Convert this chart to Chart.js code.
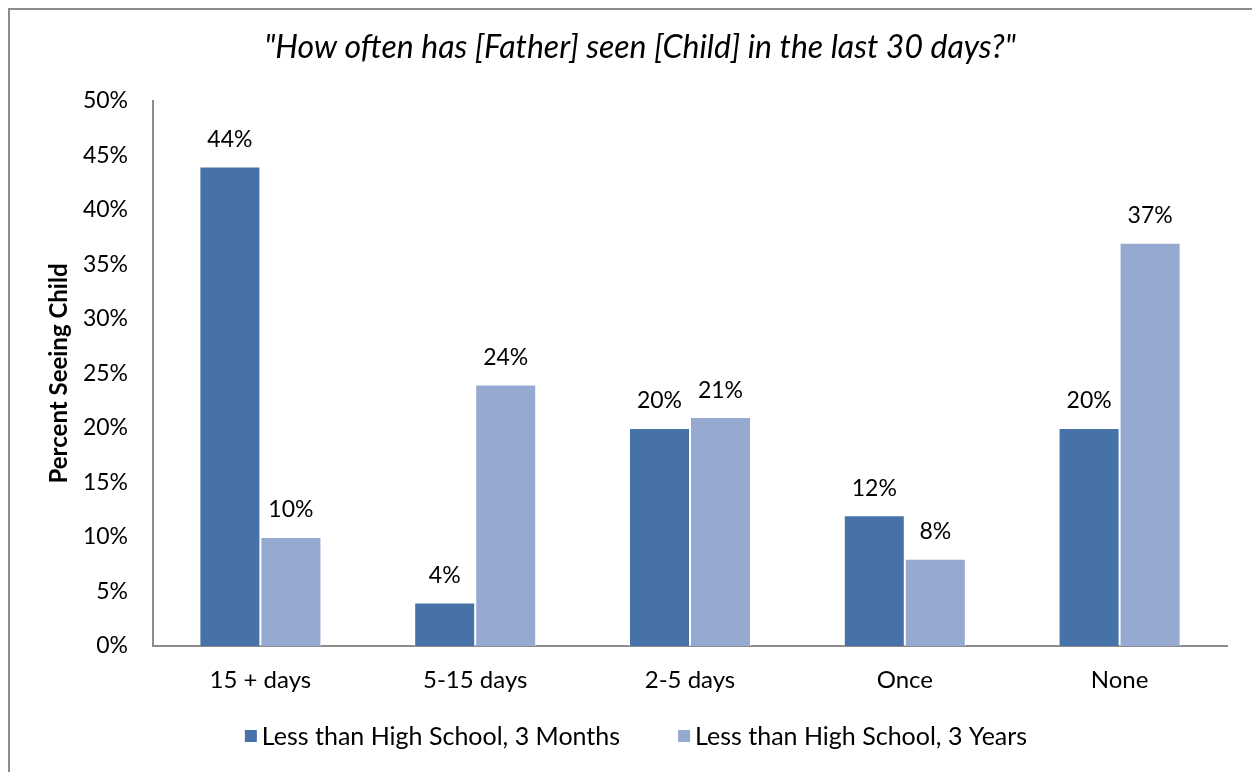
<!DOCTYPE html>
<html>
<head>
<meta charset="utf-8">
<script src="https://cdn.jsdelivr.net/npm/chart.js@4.4.1/dist/chart.umd.min.js"></script>
<style>
  html, body { margin: 0; padding: 0; background: #fff; overflow: hidden; }
  #wrap { position: relative; width: 1252px; height: 772px; }
</style>
</head>
<body>
<div id="wrap"><canvas id="c" width="1252" height="772"></canvas></div>
<script>
// Survey answers: how often the father saw the child in the last 30 days
const categories = ['15 + days', '5-15 days', '2-5 days', 'Once', 'None'];
const seriesNames = ['Less than High School, 3 Months', 'Less than High School, 3 Years'];
const months3 = [44, 4, 20, 12, 20];
const years3 = [10, 24, 21, 8, 37];
const yTicks = [0, 5, 10, 15, 20, 25, 30, 35, 40, 45, 50];

const titleText = '"How often has [Father] seen [Child] in the last 30 days?"';
const FONT = 'Lato, "Open Sans", sans-serif';
const DARK = '#4672A8';
const LIGHT = '#95A9D1';

// Outer frame, centred title, value labels and bottom legend
const decorations = {
  id: 'decorations',
  beforeDraw(chart) {
    const ctx = chart.ctx;
    ctx.save();
    ctx.fillStyle = '#fff';
    ctx.fillRect(0, 0, chart.width, chart.height);
    ctx.strokeStyle = '#8c8c8c';
    ctx.lineWidth = 2;
    ctx.strokeRect(9, 9, chart.width + 20, chart.height + 20);
    ctx.restore();
  },
  afterDatasetsDraw(chart) {
    const ctx = chart.ctx;
    ctx.save();
    ctx.fillStyle = '#000';
    ctx.textAlign = 'center';
    ctx.textBaseline = 'middle';
    ctx.font = '23px ' + FONT;
    chart.data.datasets.forEach((ds, di) => {
      chart.getDatasetMeta(di).data.forEach((bar, i) => {
        ctx.fillText(ds.data[i] + '%', bar.x, bar.y - 27);
      });
    });
    ctx.restore();
  },
  afterDraw(chart) {
    const ctx = chart.ctx;
    ctx.save();
    // title
    ctx.fillStyle = '#000';
    ctx.font = 'italic 32px ' + FONT;
    ctx.textAlign = 'center';
    ctx.textBaseline = 'middle';
    ctx.fillText(titleText, 640, 48);

    // legend
    ctx.font = '25px ' + FONT;
    ctx.textAlign = 'left';
    const box = 12, gapBox = 5, gapItems = 58;
    const widths = chart.data.datasets.map(d => ctx.measureText(d.label).width);
    const total = widths.reduce((a, w) => a + box + gapBox + w, 0) + gapItems * (widths.length - 1);
    let x = 636 - total / 2;
    const y = 736;
    chart.data.datasets.forEach((d, i) => {
      ctx.fillStyle = d.backgroundColor;
      ctx.fillRect(x, y - box / 2, box, box);
      ctx.fillStyle = '#000';
      ctx.fillText(d.label, x + box + gapBox, y + 1);
      x += box + gapBox + widths[i] + gapItems;
    });
    ctx.restore();
  }
};

new Chart(document.getElementById('c'), {
  type: 'bar',
  data: {
    labels: categories,
    datasets: [
      { label: seriesNames[0], data: months3, backgroundColor: DARK,
        borderColor: 'rgba(255,255,255,0.6)', borderWidth: 1,
        categoryPercentage: 0.568, barPercentage: 1.0 },
      { label: seriesNames[1], data: years3, backgroundColor: LIGHT,
        borderColor: 'rgba(255,255,255,0.6)', borderWidth: 1,
        categoryPercentage: 0.568, barPercentage: 1.0 }
    ]
  },
  options: {
    responsive: false,
    animation: false,
    events: [],
    layout: { padding: { left: 0, right: 25, top: 101, bottom: 0 } },
    plugins: {
      legend: { display: false },
      title: { display: false },
      tooltip: { enabled: false }
    },
    scales: {
      x: {
        grid: { display: false, drawTicks: false },
        border: { display: true, color: '#8c8c8c', width: 2 },
        ticks: { color: '#000', font: { family: FONT, size: 24 }, padding: 20, maxRotation: 0 },
        afterFit(scale) { scale.height = 126; }
      },
      y: {
        min: 0, max: 50,
        afterBuildTicks(scale) { scale.ticks = yTicks.map(v => ({ value: v })); },
        grid: { display: false, drawTicks: false },
        border: { display: true, color: '#8c8c8c', width: 2 },
        ticks: { color: '#000', font: { family: FONT, size: 23 }, padding: 25,
                 callback: v => v + '%' },
        title: { display: true, text: 'Percent Seeing Child', color: '#000',
                 font: { family: FONT, size: 24, weight: 'bold' },
                 padding: { top: 45, bottom: 0 } },
        afterFit(scale) { scale.width = 153; }
      }
    }
  },
  plugins: [decorations]
});
</script>
</body>
</html>
